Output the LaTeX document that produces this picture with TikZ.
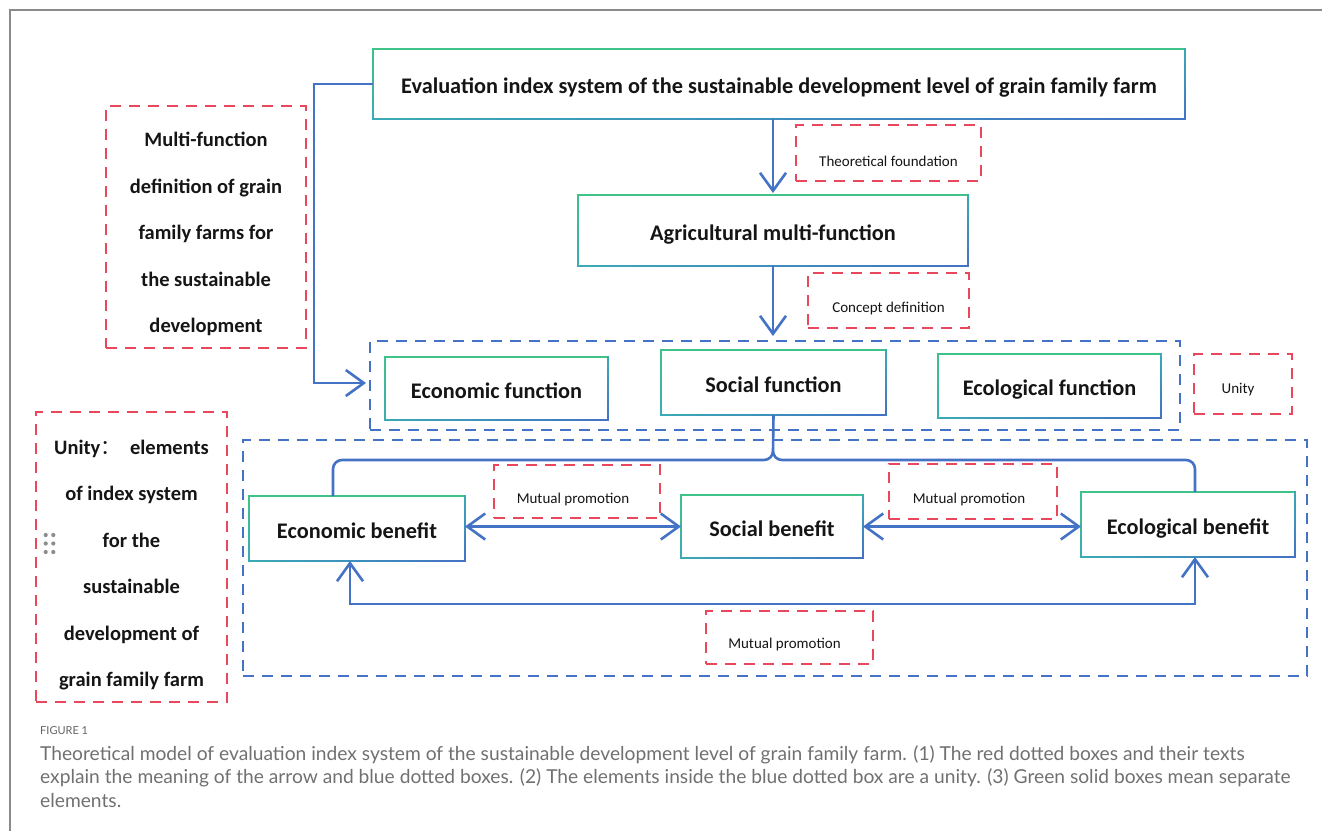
\documentclass[tikz,border=0pt]{standalone}
\usepackage{fontspec}
\setmainfont{Carlito}
\newfontfamily\capfont{Lato}
\newfontfamily\cjkfont{Noto Sans CJK SC}
\usetikzlibrary{arrows.meta,calc}
\definecolor{bl}{HTML}{4472C4}
\definecolor{gr}{HTML}{3FC389}
\definecolor{tl}{HTML}{3AABB5}
\definecolor{rd}{HTML}{E8475C}
\definecolor{tx}{HTML}{151515}
\definecolor{cap}{HTML}{707070}
\tikzset{
  gbox/.style={inner sep=0pt, outer sep=0pt, font=\fontsize{22.3}{26}\selectfont\bfseries, text=tx, text height=19pt, text depth=0pt},
  rbox/.style={draw=rd, line width=2.9pt, dash pattern=on 11pt off 8pt, inner sep=0pt, outer sep=0pt},
  lbl/.style={font=\fontsize{15}{18}\selectfont, text=tx},
  blbl/.style={font=\fontsize{20.5}{46.5}\selectfont\bfseries, text=tx, align=center},
  bdash/.style={draw=bl, line width=2.9pt, dash pattern=on 11pt off 8pt},
  conn/.style={draw=bl, line width=2.6pt},
  arr/.style={conn, -{Straight Barb[length=18pt,width=26pt]}},
  darr/.style={conn, {Straight Barb[length=18pt,width=26pt]}-{Straight Barb[length=18pt,width=26pt]}},
  captxt/.style={font=\capfont\fontsize{19.2}{22}\selectfont, text=cap, anchor=west, inner sep=0pt}
}
% gradient edge: from, to, start colour, end colour
\newcommand{\gedge}[4]{%
  \foreach \gi in {0,...,19}{%
    \pgfmathsetmacro\gP{100*(\gi+0.5)/20}%
    \pgfmathsetmacro\gA{\gi/20}%
    \pgfmathsetmacro\gB{min(1,(\gi+1.3)/20)}%
    \draw[line width=2.4pt, line cap=rect, color=#4!\gP!#3] ($(#1)!\gA!(#2)$) -- ($(#1)!\gB!(#2)$);
  }}
\newcommand{\gring}[1]{%
  \draw[line width=2.4pt, line cap=rect, color=gr] (#1.north west) -- (#1.north east);
  \gedge{#1.north west}{#1.south west}{gr}{tl}
  \gedge{#1.north east}{#1.south east}{tl}{bl}
  \gedge{#1.south west}{#1.south east}{tl}{bl}
}
\begin{document}
\begin{tikzpicture}[x=1pt,y=-1pt]
\useasboundingbox (0,0) rectangle (1322,831);
% frame
\draw[color={rgb,255:red,138;green,138;blue,138}, line width=2pt] (1322,10) -- (10,10) -- (10,831);

% blue dashed groups
\node[bdash, minimum width=810pt, minimum height=89pt, inner sep=0pt] (BD1) at (775,385.5) {};
\node[bdash, minimum width=1064pt, minimum height=236pt, inner sep=0pt] (BD2) at (775,558) {};

% green boxes
\node[gbox, minimum width=812pt, minimum height=70pt] (T) at (779,84) {Evaluation index system of the sustainable development level of grain family farm};
\node[gbox, minimum width=390pt, minimum height=71pt] (A) at (773,230.5) {Agricultural multi-function};
\node[gbox, minimum width=223pt, minimum height=63pt] (EF) at (496.5,388.5) {Economic function};
\node[gbox, minimum width=225pt, minimum height=65pt] (SF) at (773.5,382.5) {Social function};
\node[gbox, minimum width=223pt, minimum height=64pt] (LF) at (1049.5,386) {Ecological function};
\node[gbox, minimum width=216pt, minimum height=65pt] (EB) at (357,528.5) {Economic benefit};
\node[gbox, minimum width=182pt, minimum height=63pt] (SB) at (772,526.5) {Social benefit};
\node[gbox, minimum width=214pt, minimum height=65pt] (LB) at (1188,524.5) {Ecological benefit};
\foreach \n in {T,A,EF,SF,LF,EB,SB,LB}{\gring{\n}}

% red dashed explanation boxes
\node[rbox, minimum width=185pt, minimum height=56pt, label={[lbl, yshift=-8pt]center:Theoretical foundation}] (RF) at (888.5,153) {};
\node[rbox, minimum width=161pt, minimum height=55pt, label={[lbl, yshift=-7.5pt]center:Concept definition}] (RC) at (888.5,300.5) {};
\node[rbox, minimum width=98pt, minimum height=60pt, label={[lbl, yshift=-6pt, xshift=-5pt]center:Unity}] (RU) at (1243,384) {};
\node[rbox, minimum width=166pt, minimum height=53pt, label={[lbl, yshift=-7.5pt, xshift=-4pt]center:Mutual promotion}] (RM1) at (577,491.5) {};
\node[rbox, minimum width=168pt, minimum height=55pt, label={[lbl, yshift=-7.5pt, xshift=-4pt]center:Mutual promotion}] (RM2) at (973,491.5) {};
\node[rbox, minimum width=167pt, minimum height=53pt, label={[lbl, yshift=-6.5pt, xshift=-5pt]center:Mutual promotion}] (RM3) at (789.5,637.5) {};
\node[rbox, minimum width=200pt, minimum height=242pt, label={[blbl, yshift=-7pt]center:Multi-function\\definition of grain\\family farms for\\the sustainable\\development}] (RL1) at (206,227) {};
\node[rbox, minimum width=191pt, minimum height=290pt, label={[blbl, yshift=-8pt]center:Unity{\cjkfont\mdseries ：}\ \ elements\\of index system\\for the\\sustainable\\development of\\grain family farm}] (RL2) at (131.5,557) {};

% grip dots
\foreach \dx in {45.7,53.3}{\foreach \dy in {535,543.5,552}{\fill[color={rgb,255:red,140;green,140;blue,140}] (\dx,\dy) circle (2.1pt);}}

% connectors
\coordinate (tipA) at (773,193);
\coordinate (tipB) at (773,336);
\coordinate (tipE) at (366,383);
\draw[arr] (T.south -| A.north) -- (tipA);
\draw[arr] (A.south) -- (tipB);
\draw[arr] (T.west) -- (314,84) -- (314,383) -- (tipE);
\draw[conn] (SF.south) -- (773,451) to[out=-90,in=0] (764,460) -- (342,460) to[out=180,in=90] (333,469) -- ([xshift=-24pt]EB.north);
\draw[conn] (773,451) to[out=-90,in=180] (782,460) -- (1186,460) to[out=0,in=90] (1195,469) -- ([xshift=7pt]LB.north);
\draw[darr] (EB.east |- SB.west) -- (SB.west);
\draw[darr] (SB.east) -- (SB.east -| LB.west);
\draw[darr] ([xshift=-7pt]EB.south) -- ++(0,43) -| ([xshift=7pt]LB.south);

% caption
\node[captxt, font=\capfont\fontsize{11}{14}\selectfont, text={rgb,255:red,100;green,100;blue,100}] (F1) at (40,731) {FIGURE 1};
\node[captxt] (C1) at (40,755) {Theoretical model of evaluation index system of the sustainable development level of grain family farm. (1) The red dotted boxes and their texts};
\node[captxt] (C2) at (40,778) {explain the meaning of the arrow and blue dotted boxes. (2) The elements inside the blue dotted box are a unity. (3) Green solid boxes mean separate};
\node[captxt] (C3) at (40,800) {elements.};
\end{tikzpicture}
\end{document}
